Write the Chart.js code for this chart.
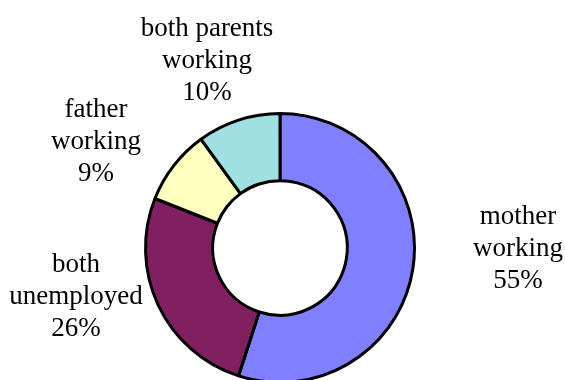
<!DOCTYPE html>
<html lang="en">
<head>
    <meta charset="UTF-8">
    <title>Family employment</title>
    <style>
        body {
            margin: 0;
            background: #ffffff;
        }

        .wrap {
            width: 565px;
            height: 380px;
            overflow: hidden;
        }
    </style>
</head>
<body>
    <div class="wrap">
        <canvas id="jobChart" width="565" height="400"></canvas>
    </div>

    <script src="https://cdn.jsdelivr.net/npm/chart.js"></script>
    <script>
        // slices, clockwise from 12 o'clock
        const categories = ['mother working', 'both unemployed', 'father working', 'both parents working'];
        const shares = [55, 26, 9, 10];
        const labelLines = [
            ['mother', 'working'],
            ['both', 'unemployed'],
            ['father', 'working'],
            ['both parents', 'working']
        ];
        const sliceColors = ['#8080ff', '#802060', '#ffffc0', '#a0e0e0'];

        // where each label block sits, relative to the ring centre (first baseline)
        const labelOffsets = [
            { dx: 238, dy: -24 },
            { dx: -204, dy: 24 },
            { dx: -184, dy: -131 },
            { dx: -73, dy: -212 }
        ];

        const sliceLabels = {
            id: 'sliceLabels',
            afterDraw(chart) {
                const ctx = chart.ctx;
                const arc = chart.getDatasetMeta(0).data[0];
                ctx.save();
                ctx.fillStyle = '#000000';
                ctx.font = '27px "Liberation Serif", "Times New Roman", serif';
                ctx.textAlign = 'center';
                ctx.textBaseline = 'alphabetic';
                const lineH = 32;
                labelLines.forEach((lines, i) => {
                    const x = arc.x + labelOffsets[i].dx;
                    let y = arc.y + labelOffsets[i].dy;
                    const value = chart.data.datasets[0].data[i];
                    lines.concat([value + '%']).forEach(txt => {
                        ctx.fillText(txt, x, y);
                        y += lineH;
                    });
                });
                ctx.restore();
            }
        };

        const ctx = document.getElementById('jobChart').getContext('2d');
        const jobChart = new Chart(ctx, {
            type: 'doughnut',
            data: {
                labels: categories,
                datasets: [{
                    data: shares,
                    backgroundColor: sliceColors,
                    borderColor: '#000000',
                    borderWidth: 3
                }]
            },
            options: {
                responsive: false,
                animation: false,
                cutout: '50%',
                layout: {
                    padding: { top: 112, bottom: 16, left: 144, right: 149 }
                },
                plugins: {
                    legend: { display: false },
                    tooltip: { enabled: false }
                }
            },
            plugins: [sliceLabels]
        });
    </script>
</body>
</html>
